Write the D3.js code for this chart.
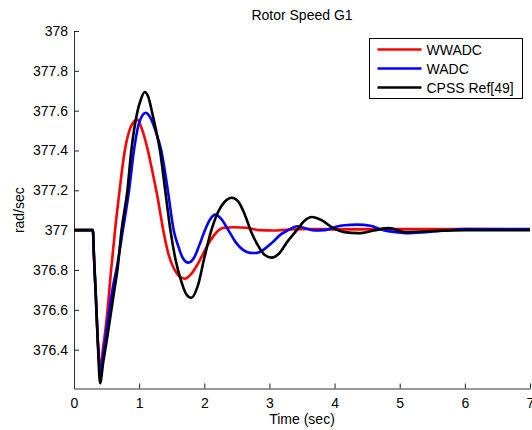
<!DOCTYPE html>
<html>
<head>
<meta charset="utf-8">
<script src="https://cdn.jsdelivr.net/npm/d3@7"></script>
<style>
  body { margin: 0; background: #fff; }
  svg text { font-family: "Liberation Sans", Arial, sans-serif; fill: #000; }
</style>
</head>
<body>
<svg id="chart" width="532" height="430"></svg>
<script>
// values (time in s, speed in rad/sec)
var timeRed = [0, 0.29, 0.305, 0.335, 0.37, 0.40, 0.45, 0.50, 0.57, 0.63, 0.70, 0.77, 0.85, 0.92, 0.97, 1.04, 1.12, 1.20, 1.28, 1.37, 1.45, 1.53, 1.61, 1.70, 1.80, 1.90, 1.98, 2.06, 2.14, 2.22, 2.30, 2.45, 2.65, 2.85, 3.05, 3.3, 3.6, 4.0, 5.0, 6.0, 7.0];
var valRed  = [377, 377, 376.88, 376.67, 376.42, 376.31, 376.42, 376.55, 376.80, 377.0, 377.2, 377.38, 377.5, 377.545, 377.555, 377.51, 377.42, 377.3, 377.17, 377.0, 376.88, 376.81, 376.77, 376.756, 376.78, 376.83, 376.88, 376.93, 376.97, 377.0, 377.012, 377.015, 377.012, 377.0, 376.998, 377.003, 377.006, 377.004, 377.005, 377.005, 377.003];

var timeBlue = [0, 0.29, 0.305, 0.335, 0.37, 0.405, 0.45, 0.50, 0.55, 0.60, 0.65, 0.75, 0.845, 0.92, 1.0, 1.10, 1.18, 1.26, 1.34, 1.44, 1.53, 1.60, 1.67, 1.755, 1.84, 1.93, 2.01, 2.09, 2.17, 2.25, 2.37, 2.48, 2.60, 2.70, 2.79, 2.90, 3.05, 3.18, 3.29, 3.42, 3.55, 3.70, 3.85, 4.0, 4.15, 4.35, 4.55, 4.75, 4.95, 5.1, 5.4, 5.7, 6.0, 6.5, 7.0];
var valBlue  = [377, 377, 376.88, 376.67, 376.42, 376.28, 376.38, 376.50, 376.62, 376.72, 376.80, 377.0, 377.2, 377.4, 377.54, 377.589, 377.56, 377.49, 377.4, 377.2, 377.0, 376.92, 376.86, 376.837, 376.86, 376.93, 377.0, 377.055, 377.078, 377.06, 377.0, 376.94, 376.9, 376.886, 376.885, 376.90, 376.94, 376.98, 377.0, 377.02, 377.01, 376.998, 377.0, 377.015, 377.025, 377.028, 377.022, 377.0, 376.99, 376.985, 376.99, 376.998, 377.005, 377.005, 377.005];

var timeBlack = [0, 0.29, 0.305, 0.335, 0.37, 0.40, 0.45, 0.50, 0.56, 0.62, 0.67, 0.73, 0.82, 0.88, 0.97, 1.03, 1.085, 1.14, 1.20, 1.26, 1.32, 1.40, 1.48, 1.56, 1.64, 1.72, 1.80, 1.90, 2.0, 2.10, 2.21, 2.32, 2.42, 2.52, 2.62, 2.71, 2.83, 2.93, 3.03, 3.14, 3.27, 3.42, 3.53, 3.65, 3.80, 3.98, 4.15, 4.37, 4.60, 4.83, 5.10, 5.5, 6.0, 7.0];
var valBlack  = [377, 377, 376.88, 376.67, 376.40, 376.232, 376.34, 376.44, 376.57, 376.70, 376.81, 377.0, 377.2, 377.4, 377.59, 377.66, 377.694, 377.67, 377.59, 377.5, 377.4, 377.2, 377.0, 376.85, 376.75, 376.68, 376.66, 376.72, 376.86, 376.99, 377.09, 377.145, 377.163, 377.145, 377.08, 377.0, 376.92, 376.875, 376.862, 376.88, 376.94, 377.0, 377.045, 377.066, 377.05, 377.01, 376.99, 376.985, 376.998, 377.01, 376.99, 376.996, 377.0, 377.0];

var seriesNames = ["WWADC", "WADC", "CPSS Ref[49]"];
var seriesColors = ["#ff0000", "#0000ff", "#000000"];
var xTicks = [0, 1, 2, 3, 4, 5, 6, 7];
var yTicks = [376.4, 376.6, 376.8, 377, 377.2, 377.4, 377.6, 377.8, 378];

function drawRotorChart() {
    let chart = d3.select("#chart"),
        margin = { top: 31, right: 2, bottom: 41.5, left: 74 },
        width = +chart.attr("width") - margin.left - margin.right,
        height = +chart.attr("height") - margin.top - margin.bottom;

    let x = d3.scaleLinear().domain([0, 7]).range([0, width]);
    let y = d3.scaleLinear().domain([376.205, 378]).range([height, 0]);

    let focus = chart.append("g")
        .attr("transform", "translate(" + margin.left + "," + margin.top + ")");

    let xAxis = d3.axisBottom(x)
        .tickValues(xTicks)
        .tickFormat(d3.format("d"))
        .tickSize(-5)
        .tickSizeOuter(0)
        .tickPadding(10);

    let yAxis = d3.axisLeft(y)
        .tickValues(yTicks)
        .tickFormat(d => d3.format(".1f")(d).replace(/\.0$/, ""))
        .tickSize(-5)
        .tickSizeOuter(0)
        .tickPadding(6);

    let gx = focus.append("g")
        .attr("transform", "translate(0," + height + ")")
        .call(xAxis);
    let gy = focus.append("g").call(yAxis);

    [gx, gy].forEach(function (g) {
        g.selectAll("text").style("font-size", "14px").style("font-family", "Liberation Sans, Arial, sans-serif");
        g.select(".domain").attr("stroke", "#333");
        g.selectAll(".tick line").attr("stroke", "#222");
    });

    let line = d3.line()
        .x(d => x(d[0]))
        .y(d => y(d[1]))
        .curve(d3.curveMonotoneX);

    let series = [
        d3.zip(timeRed, valRed),
        d3.zip(timeBlue, valBlue),
        d3.zip(timeBlack, valBlack)
    ];

    series.forEach(function (s, i) {
        focus.append("path")
            .datum(s)
            .attr("d", line)
            .attr("fill", "none")
            .attr("stroke", seriesColors[i])
            .attr("stroke-width", 2.6)
            .attr("stroke-linejoin", "round");
    });

    // titles
    chart.append("text")
        .attr("x", margin.left + width / 2)
        .attr("y", 20)
        .attr("text-anchor", "middle")
        .style("font-size", "14px")
        .text("Rotor Speed G1");

    chart.append("text")
        .attr("x", margin.left + width / 2)
        .attr("y", 424)
        .attr("text-anchor", "middle")
        .style("font-size", "14px")
        .text("Time (sec)");

    chart.append("text")
        .attr("transform", "translate(24," + (margin.top + y(377.0) - 20) + ") rotate(-90)")
        .attr("text-anchor", "middle")
        .style("font-size", "14px")
        .text("rad/sec");

    // legend
    let legend = chart.append("g").attr("transform", "translate(369.5,38.5)");
    legend.append("rect")
        .attr("width", 153)
        .attr("height", 60)
        .attr("fill", "#fff")
        .attr("stroke", "#000")
        .attr("stroke-width", 1);

    seriesNames.forEach(function (name, i) {
        let ly = 11 + i * 19;
        legend.append("line")
            .attr("x1", 8).attr("x2", 52)
            .attr("y1", ly).attr("y2", ly)
            .attr("stroke", seriesColors[i])
            .attr("stroke-width", 2.6);
        legend.append("text")
            .attr("x", 57)
            .attr("y", ly + 5)
            .style("font-size", "14px")
            .text(name);
    });
}

drawRotorChart();
</script>
</body>
</html>
